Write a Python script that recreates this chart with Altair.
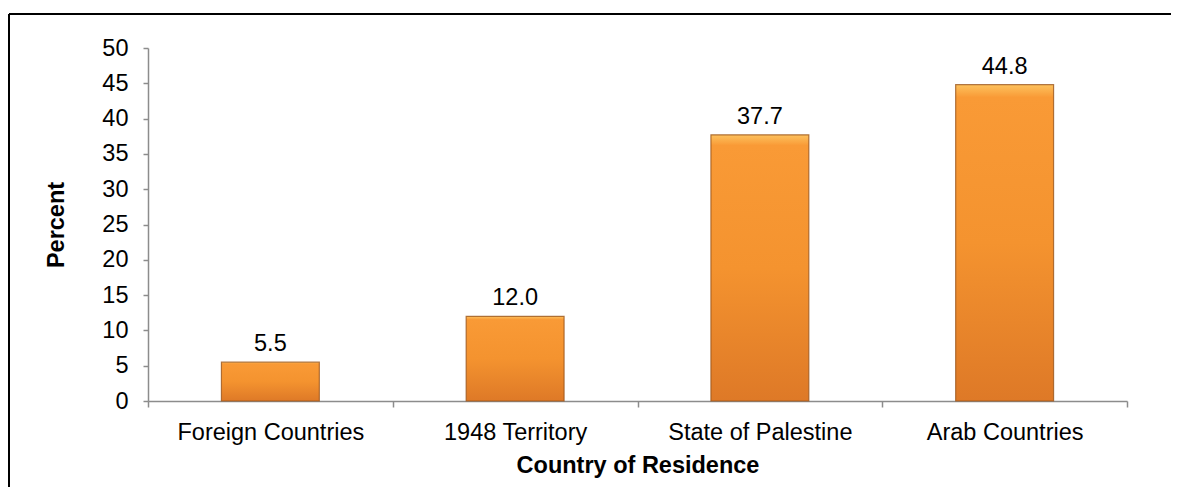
import altair as alt
import pandas as pd

categories = ["Foreign Countries", "1948 Territory", "State of Palestine", "Arab Countries"]
values = [5.5, 12.0, 37.7, 44.8]
labels = ["5.5", "12.0", "37.7", "44.8"]
y_ticks = [0, 5, 10, 15, 20, 25, 30, 35, 40, 45, 50]

df = pd.DataFrame({"cat": categories, "val": values, "lab": labels})

FONT = "Liberation Sans"
FS = 23.5

x_enc = alt.X("cat:N", sort=categories, title="Country of Residence",
              scale=alt.Scale(paddingInner=0, paddingOuter=0),
              axis=alt.Axis(labelAngle=0, tickBand="extent", tickSize=6,
                            labelBaseline="middle", labelPadding=25, labelLimit=400,
                            titleBaseline="middle", titleY=64))
y_enc = alt.Y("val:Q", title="Percent",
              scale=alt.Scale(domain=[0, 50], nice=False),
              axis=alt.Axis(values=y_ticks, tickSize=5, labelPadding=15,
                            labelOverlap=False, labelBaseline="middle",
                            grid=False, titleX=-80, titleBaseline="bottom"))

grad = alt.Gradient(
    gradient="linear", x1=0, x2=0, y1=0, y2=1,
    stops=[alt.GradientStop(color="#FDC25E", offset=0),
           alt.GradientStop(color="#F99A36", offset=0.04),
           alt.GradientStop(color="#F4932F", offset=0.5),
           alt.GradientStop(color="#DE7927", offset=1)])

bars = alt.Chart(df).mark_bar(
    width=alt.RelativeBandSize(0.4), fill=grad,
    stroke="#9C561B", strokeWidth=1.2, strokeOpacity=0.8
).encode(x=x_enc, y=y_enc)

text = alt.Chart(df).mark_text(
    baseline="middle", dy=-18, font=FONT, fontSize=FS, color="#000000"
).encode(x=x_enc, y=y_enc, text="lab:N")

frame_top = alt.Chart(df).mark_rule(color="#000000", strokeWidth=2).encode(
    x=alt.value(-139), x2=alt.value(1023), y=alt.value(-34))
frame_left = alt.Chart(df).mark_rule(color="#000000", strokeWidth=2).encode(
    x=alt.value(-139), y=alt.value(-34), y2=alt.value(439))

chart = alt.layer(bars, text, frame_top, frame_left).properties(
    width=979, height=353,
    autosize=alt.AutoSizeParams(type="none"),
    padding={"left": 140, "top": 40, "right": 44, "bottom": 86},
).configure_view(stroke=None).configure_axis(
    domainColor="#8C8C8C", domainWidth=1.5, tickColor="#8C8C8C", tickWidth=1.5,
    labelFont=FONT, labelFontSize=FS, labelColor="#000000",
    titleFont=FONT, titleFontSize=FS, titleFontWeight="bold", titleColor="#000000",
)

chart.save("out.html", embed_options={"renderer": "svg", "actions": False})
